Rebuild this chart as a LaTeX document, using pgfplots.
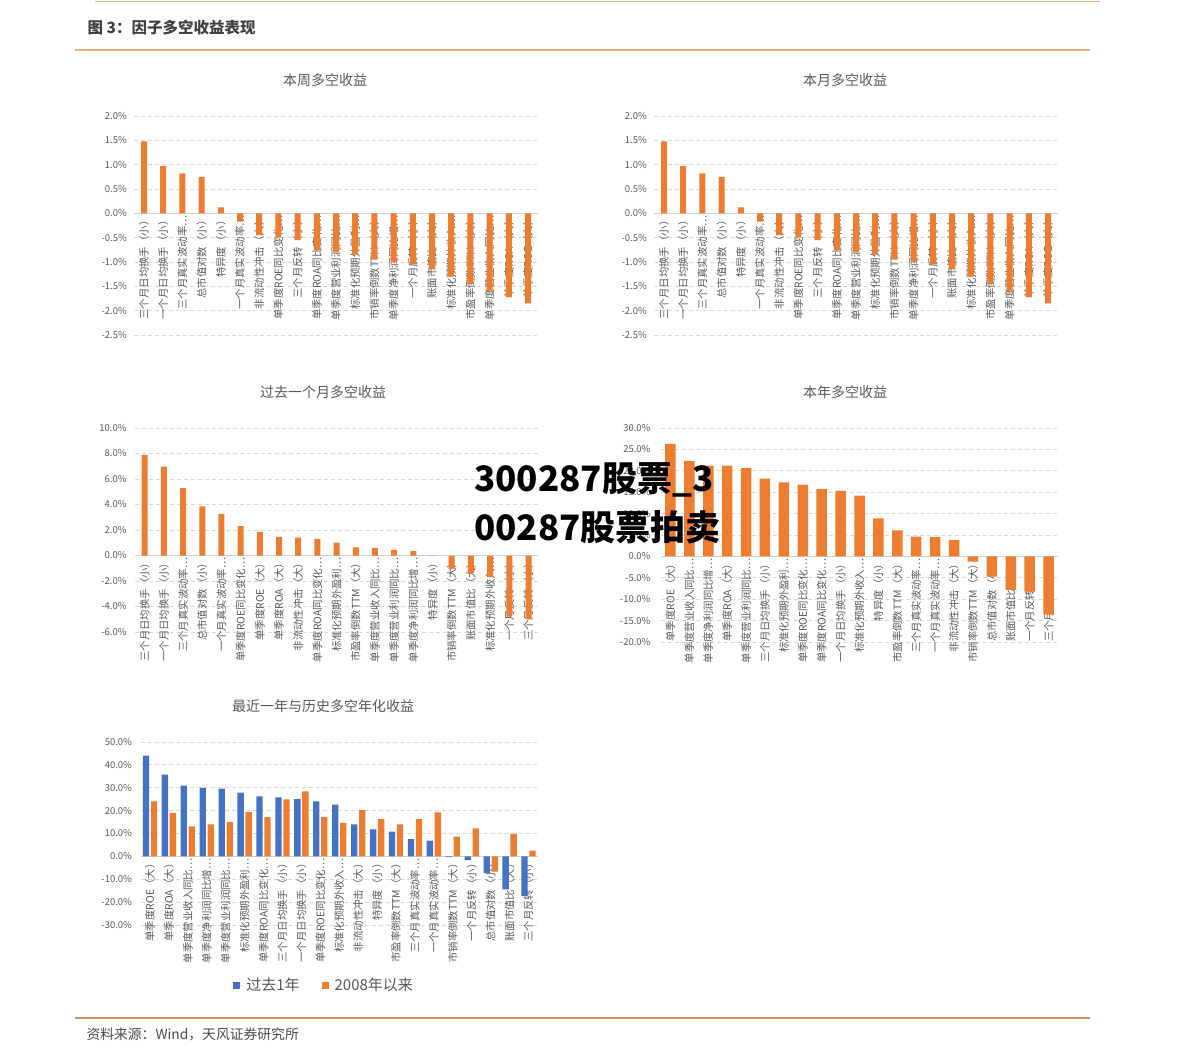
\documentclass[border=0pt]{standalone}
\usepackage{fontspec}
\setmainfont{Noto Sans CJK SC}
\usepackage{pgfplots}
\pgfplotsset{compat=1.18}

\definecolor{or}{HTML}{ED7D31}
\definecolor{bl}{HTML}{4472C4}
\definecolor{txt}{HTML}{595959}
\definecolor{rule}{HTML}{E5B586}
\definecolor{rulefoot}{HTML}{C9955F}

\newcommand\labfont{\fontsize{10.4}{12}\selectfont}
\newcommand\tkfont{\fontsize{9.5}{11}\selectfont}

\pgfplotsset{
  fac/.style={
    scale only axis, anchor=south west,
    ybar, bar width=6pt,
    xmin=0.5, xmax=21.5, xtick={1,...,21},
    axis x line*=middle, axis y line*=left,
    y axis line style={draw=none},
    x axis line style={draw=gray!35, line width=0.8pt},
    major tick length=0pt,
    ymajorgrids,
    grid style={draw=gray!30, dash pattern=on 4pt off 3pt, line width=0.8pt},
    xticklabel style={rotate=90, anchor=east, font=\labfont, text=txt, inner sep=2pt},
    yticklabel style={font=\tkfont, text=txt},
    yticklabel={\pgfmathprintnumber[assume math mode=true,fixed,fixed zerofill,precision=1]{\tick}\%},
  }
}

\begin{document}
\begin{tikzpicture}
\useasboundingbox (0,0) rectangle (1191pt,-1063pt);

% header and footer
\draw[rule, line width=1pt] (95pt,-1pt) -- (1100pt,-1pt);
\node[anchor=west, text=black!75, font=\fontsize{15.5}{17}\selectfont\bfseries] at (84pt,-28pt) {图 3：因子多空收益表现};
\draw[rule, line width=1.2pt] (75pt,-50pt) -- (1090pt,-50pt);
\draw[rulefoot, line width=1.2pt] (75pt,-1018pt) -- (1090pt,-1018pt);
\node[anchor=west, text=black!70, font=\fontsize{13.8}{15}\selectfont] at (83pt,-1034pt) {资料来源：Wind，天风证券研究所};

% panel titles
\node[text=txt, font=\fontsize{14}{16}\selectfont] at (325pt,-80pt) {本周多空收益};
\node[text=txt, font=\fontsize{14}{16}\selectfont] at (845pt,-80pt) {本月多空收益};
\node[text=txt, font=\fontsize{14}{16}\selectfont] at (323pt,-392pt) {过去一个月多空收益};
\node[text=txt, font=\fontsize{14}{16}\selectfont] at (845pt,-392pt) {本年多空收益};
\node[text=txt, font=\fontsize{14}{16}\selectfont] at (323pt,-706pt) {最近一年与历史多空年化收益};

% week
\begin{axis}[fac, at={(134.4pt,-335pt)}, width=403.2pt, height=219pt,
  ymin=-2.5, ymax=2.0, ytick={-2.5,-2.0,...,2.0},
  yticklabel style={xshift=-4pt},
  xticklabels={三个月日均换手（小）,一个月日均换手（小）,三个月真实波动率…,总市值对数（小）,特异度（小）,一个月真实波动率…,非流动性冲击（大）,单季度ROE同比变化…,三个月反转（小）,单季度ROA同比变化…,单季度营业利润同比…,标准化预期外盈利…,市销率倒数TTM（大）,单季度净利润同比增…,一个月反转（小）,账面市值比（大）,标准化预期外收入…,市盈率倒数TTM（大）,单季度营业收入同比…,单季度ROA（大）,单季度ROE（大）}]
\addplot[fill=or, draw=none] coordinates {(1,1.48) (2,0.97) (3,0.82) (4,0.75) (5,0.12) (6,-0.17) (7,-0.45) (8,-0.50) (9,-0.55) (10,-0.75) (11,-0.80) (12,-0.85) (13,-0.95) (14,-1.00) (15,-1.05) (16,-1.15) (17,-1.30) (18,-1.45) (19,-1.60) (20,-1.72) (21,-1.85)};
\end{axis}

% month
\begin{axis}[fac, at={(654.4pt,-335pt)}, width=403.2pt, height=219pt,
  ymin=-2.5, ymax=2.0, ytick={-2.5,-2.0,...,2.0},
  yticklabel style={xshift=-4pt},
  xticklabels={三个月日均换手（小）,一个月日均换手（小）,三个月真实波动率…,总市值对数（小）,特异度（小）,一个月真实波动率…,非流动性冲击（大）,单季度ROE同比变化…,三个月反转（小）,单季度ROA同比变化…,单季度营业利润同比…,标准化预期外盈利…,市销率倒数TTM（大）,单季度净利润同比增…,一个月反转（小）,账面市值比（大）,标准化预期外收入…,市盈率倒数TTM（大）,单季度营业收入同比…,单季度ROA（大）,单季度ROE（大）}]
\addplot[fill=or, draw=none] coordinates {(1,1.48) (2,0.97) (3,0.82) (4,0.75) (5,0.12) (6,-0.17) (7,-0.45) (8,-0.50) (9,-0.55) (10,-0.75) (11,-0.80) (12,-0.85) (13,-0.95) (14,-1.00) (15,-1.05) (16,-1.15) (17,-1.30) (18,-1.45) (19,-1.60) (20,-1.72) (21,-1.85)};
\end{axis}

% past month
\begin{axis}[fac, at={(135.1pt,-632pt)}, width=403pt, height=204pt,
  ymin=-6, ymax=10, ytick={-6,-4,...,10},
  yticklabel style={xshift=-5pt},
  xticklabels={三个月日均换手（小）,一个月日均换手（小）,三个月真实波动率…,总市值对数（小）,一个月真实波动率…,单季度ROE同比变化…,单季度ROE（大）,单季度ROA（大）,非流动性冲击（大）,单季度ROA同比变化…,标准化预期外盈利…,市盈率倒数TTM（大）,单季度营业收入同比…,单季度营业利润同比…,单季度净利润同比增…,特异度（小）,市销率倒数TTM（大）,账面市值比（大）,标准化预期外收入…,一个月反转（小）,三个月反转（小）}]
\addplot[fill=or, draw=none] coordinates {(1,7.90) (2,6.98) (3,5.28) (4,3.85) (5,3.27) (6,2.30) (7,1.86) (8,1.47) (9,1.41) (10,1.30) (11,1.02) (12,0.63) (13,0.60) (14,0.45) (15,0.37) (16,-0.03) (17,-1.05) (18,-1.40) (19,-1.70) (20,-4.80) (21,-5.00)};
\end{axis}

% year to date
\begin{axis}[fac, at={(661pt,-642pt)}, width=397pt, height=214pt, bar width=10.5pt,
  ymin=-20, ymax=30, ytick={-20,-15,...,30},
  yticklabel style={xshift=-7pt},
  xticklabels={单季度ROE（大）,单季度营业收入同比…,单季度净利润同比增…,单季度ROA（大）,单季度营业利润同比…,三个月日均换手（小）,标准化预期外盈利…,单季度ROE同比变化…,单季度ROA同比变化…,一个月日均换手（小）,标准化预期外收入…,特异度（小）,市盈率倒数TTM（大）,三个月真实波动率…,一个月真实波动率…,非流动性冲击（大）,市销率倒数TTM（大）,总市值对数（小）,账面市值比（大）,一个月反转（小）,三个月反转（小）}]
\addplot[fill=or, draw=none] coordinates {(1,26.3) (2,22.3) (3,21.2) (4,21.2) (5,20.6) (6,18.2) (7,17.3) (8,16.8) (9,15.7) (10,15.3) (11,14.2) (12,8.9) (13,6.1) (14,4.6) (15,4.5) (16,3.8) (17,-1.2) (18,-4.7) (19,-7.8) (20,-8.2) (21,-13.6)};
\end{axis}

% annualised: last year vs since 2008
\begin{axis}[fac, at={(140.5pt,-925pt)}, width=397.5pt, height=183pt,
  bar width=6.3pt, ybar=1.7pt,
  ymin=-30, ymax=50, ytick={-30,-20,...,50},
  yticklabel style={xshift=-5pt},
  xticklabels={单季度ROE（大）,单季度ROA（大）,单季度营业收入同比…,单季度净利润同比增…,单季度营业利润同比…,标准化预期外盈利…,单季度ROA同比变化…,三个月日均换手（小）,一个月日均换手（小）,单季度ROE同比变化…,标准化预期外收入…,非流动性冲击（大）,特异度（小）,市盈率倒数TTM（大）,三个月真实波动率…,一个月真实波动率…,市销率倒数TTM（大）,一个月反转（小）,总市值对数（小）,账面市值比（大）,三个月反转（小）},
  legend style={at={(0.462,-0.328)}, anchor=center, draw=none, fill=none,
    font=\fontsize{15}{17}\selectfont, text=txt, legend columns=2,
    /tikz/every even column/.append style={column sep=20pt}},
  legend image code/.code={\fill[#1] (0pt,-3.5pt) rectangle (7pt,3.5pt); \path (0pt,0pt) -- (11pt,0pt);}]
\addplot[fill=bl, draw=none] coordinates {(1,44.1) (2,35.7) (3,30.9) (4,30.0) (5,29.6) (6,27.9) (7,26.2) (8,25.8) (9,25.0) (10,24.0) (11,22.6) (12,14.0) (13,11.8) (14,10.8) (15,7.6) (16,6.9) (17,-0.3) (18,-1.6) (19,-7.3) (20,-14.4) (21,-17.3)};
\addplot[fill=or, draw=none] coordinates {(1,24.0) (2,19.0) (3,13.1) (4,14.0) (5,15.1) (6,19.5) (7,17.2) (8,24.9) (9,28.4) (10,17.2) (11,14.7) (12,20.2) (13,16.3) (14,14.0) (15,16.3) (16,19.2) (17,8.6) (18,12.2) (19,-6.7) (20,9.7) (21,2.5)};
\legend{过去1年,2008年以来}
\end{axis}

% overlay text
\node[anchor=west, text=black, font=\fontsize{35}{40}\selectfont\bfseries, inner sep=0pt] at (474pt,-480pt) {300287股票\_3};
\node[anchor=west, text=black, font=\fontsize{35}{40}\selectfont\bfseries, inner sep=0pt] at (474pt,-527pt) {00287股票拍卖};
\end{tikzpicture}
\end{document}
